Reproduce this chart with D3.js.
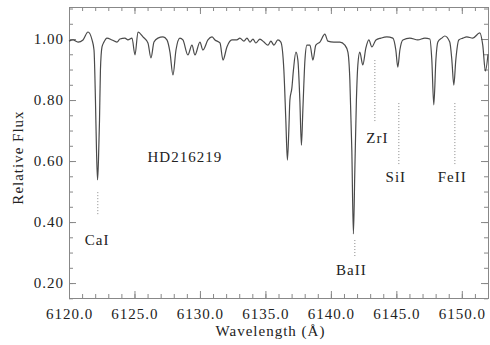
<!DOCTYPE html>
<html>
<head>
<meta charset="utf-8">
<script src="https://cdn.jsdelivr.net/npm/d3@7"></script>
<style>
  body { margin: 0; background: #fff; }
  text { font-family: "Liberation Serif", "DejaVu Serif", serif; fill: #222; }
</style>
</head>
<body>
<div id="chart"></div>
<script>
// Spectrum of HD216219
const wavelength = [
  6120.00, 6120.31, 6120.69, 6121.07, 6121.45, 6121.76, 6121.91, 6122.02, 6122.10, 6122.18,
  6122.25, 6122.33, 6122.40, 6122.52, 6122.67, 6122.90, 6123.28, 6123.66, 6123.89, 6124.27,
  6124.50, 6124.81, 6125.04, 6125.27, 6125.65, 6126.03, 6126.26, 6126.49, 6126.79, 6127.18,
  6127.48, 6127.71, 6127.94, 6128.17, 6128.47, 6128.70, 6129.08, 6129.39, 6129.62, 6130.00,
  6130.23, 6130.61, 6130.92, 6131.15, 6131.53, 6131.76, 6132.06, 6132.44, 6132.82, 6133.05,
  6133.36, 6133.59, 6133.82, 6134.05, 6134.27, 6134.58, 6134.89, 6135.19, 6135.42, 6135.65,
  6135.95, 6136.18, 6136.41, 6136.56, 6136.68, 6136.79, 6136.87, 6137.02, 6137.14, 6137.33,
  6137.48, 6137.63, 6137.75, 6137.86, 6138.02, 6138.17, 6138.40, 6138.63, 6138.85, 6139.16,
  6139.54, 6139.77, 6140.23, 6140.69, 6141.07, 6141.30, 6141.45, 6141.60, 6141.72, 6141.83,
  6141.95, 6142.06, 6142.21, 6142.44, 6142.67, 6142.90, 6143.13, 6143.44, 6143.82, 6144.27,
  6144.73, 6144.96, 6145.11, 6145.27, 6145.50, 6146.03, 6146.64, 6147.18, 6147.56, 6147.71,
  6147.86, 6148.02, 6148.17, 6148.47, 6148.70, 6149.08, 6149.24, 6149.39, 6149.54, 6149.77,
  6150.08, 6150.38, 6150.84, 6151.37, 6151.60, 6151.80, 6152.00
];
const flux = [
  0.993, 0.997, 0.990, 0.997, 1.023, 0.997, 0.964, 0.800, 0.636, 0.538,
  0.603, 0.734, 0.898, 0.974, 0.990, 1.003, 0.997, 0.990, 1.000, 1.003,
  0.997, 1.003, 0.948, 1.023, 1.007, 0.987, 0.938, 0.990, 1.003, 1.007,
  0.997, 0.957, 0.882, 0.964, 1.003, 0.997, 0.948, 0.980, 0.948, 0.990,
  0.964, 0.997, 1.007, 0.997, 0.987, 0.931, 0.974, 0.997, 0.997, 1.003,
  0.993, 1.003, 0.990, 1.000, 0.987, 1.000, 0.990, 0.980, 0.993, 0.980,
  0.997, 0.990, 0.898, 0.734, 0.603, 0.702, 0.800, 0.839, 0.898, 0.957,
  0.931, 0.800, 0.652, 0.767, 0.931, 0.980, 0.980, 0.931, 0.980, 0.990,
  1.016, 0.993, 0.990, 0.990, 0.980, 0.957, 0.866, 0.636, 0.361, 0.570,
  0.800, 0.915, 0.957, 0.915, 0.970, 0.997, 0.974, 0.997, 1.003, 1.007,
  1.003, 0.964, 0.908, 0.964, 0.997, 1.003, 0.997, 1.003, 1.000, 0.931,
  0.784, 0.931, 0.990, 1.003, 1.010, 0.990, 0.931, 0.849, 0.931, 0.997,
  1.003, 1.007, 1.003, 1.020, 0.980, 0.895, 0.950
];

// Line identifications
const lineNames = ["CaI", "BaII", "ZrI", "SiI", "FeII"];
const lineLambda = [6122.20, 6141.83, 6143.36, 6145.19, 6149.47];
const markTop = [0.498, 0.341, 0.931, 0.790, 0.790];
const markBottom = [0.423, 0.285, 0.728, 0.587, 0.587];
const labelLambda = [6122.15, 6141.56, 6143.55, 6144.96, 6149.27];
const labelFlux = [0.325, 0.226, 0.659, 0.531, 0.531];

const starName = "HD216219";
const starLambda = 6128.85, starFlux = 0.597;

const xTicks = [6120, 6125, 6130, 6135, 6140, 6145, 6150];
const yTicks = [0.20, 0.40, 0.60, 0.80, 1.00];

const margin = { top: 7, right: 2, bottom: 47, left: 69 },
    width = 490 - margin.left - margin.right,
    height = 345 - margin.top - margin.bottom;

const svg = d3.select("#chart")
    .append("svg")
    .attr("width", 490)
    .attr("height", 345)
    .append("g")
    .attr("transform", "translate(" + margin.left + "," + margin.top + ")");

const x = d3.scaleLinear().domain([6120, 6152]).range([0, width]);
const y = d3.scaleLinear().domain([0.151, 1.105]).range([height, 0]);

const minorX = d3.range(6120, 6153, 1);
const minorY = d3.range(0.15, 1.11, 0.05);

function styleAxis(g) {
    g.select(".domain").attr("stroke", "#888");
    g.selectAll(".tick line").attr("stroke", "#888");
    g.selectAll("text")
        .style("font-size", "15px")
        .style("letter-spacing", "1px")
        .attr("fill", "#222");
}

// minor ticks on all four sides
svg.append("g").attr("transform", "translate(0," + height + ")")
    .call(d3.axisBottom(x).tickValues(minorX).tickSize(-4).tickFormat(""))
    .call(styleAxis);
svg.append("g")
    .call(d3.axisTop(x).tickValues(minorX).tickSize(-4).tickFormat(""))
    .call(styleAxis);
svg.append("g")
    .call(d3.axisLeft(y).tickValues(minorY).tickSize(-4).tickFormat(""))
    .call(styleAxis);
svg.append("g").attr("transform", "translate(" + width + ",0)")
    .call(d3.axisRight(y).tickValues(minorY).tickSize(-4).tickFormat(""))
    .call(styleAxis);

// major ticks
svg.append("g").attr("transform", "translate(0," + height + ")")
    .call(d3.axisBottom(x).tickValues(xTicks).tickSize(-7).tickPadding(10).tickFormat(d3.format(".1f")))
    .call(styleAxis);
svg.append("g")
    .call(d3.axisTop(x).tickValues(xTicks).tickSize(-7).tickFormat(""))
    .call(styleAxis);
svg.append("g")
    .call(d3.axisLeft(y).tickValues(yTicks).tickSize(-7).tickPadding(5).tickFormat(d3.format(".2f")))
    .call(styleAxis);
svg.append("g").attr("transform", "translate(" + width + ",0)")
    .call(d3.axisRight(y).tickValues(yTicks).tickSize(-7).tickFormat(""))
    .call(styleAxis);

// spectrum
const line = d3.line()
    .curve(d3.curveMonotoneX)
    .x((d, i) => x(wavelength[i]))
    .y(d => y(d));

svg.append("path")
    .datum(flux)
    .attr("fill", "none")
    .attr("stroke", "#4a4a4a")
    .attr("stroke-width", 1.2)
    .attr("stroke-linejoin", "round")
    .attr("d", line);

// line markers and labels
svg.selectAll(".marker")
    .data(lineNames)
    .enter()
    .append("line")
    .attr("class", "marker")
    .attr("x1", (d, i) => x(lineLambda[i]))
    .attr("x2", (d, i) => x(lineLambda[i]))
    .attr("y1", (d, i) => y(markTop[i]))
    .attr("y2", (d, i) => y(markBottom[i]))
    .attr("stroke", "#888")
    .attr("stroke-dasharray", "1,2");

svg.selectAll(".label")
    .data(lineNames)
    .enter()
    .append("text")
    .attr("class", "label")
    .attr("x", (d, i) => x(labelLambda[i]))
    .attr("y", (d, i) => y(labelFlux[i]))
    .attr("text-anchor", "middle")
    .style("font-size", "15px")
    .style("letter-spacing", "1px")
    .text(d => d);

svg.append("text")
    .attr("x", x(starLambda))
    .attr("y", y(starFlux))
    .attr("text-anchor", "middle")
    .style("font-size", "15px")
    .style("letter-spacing", "1px")
    .text(starName);

// axis titles
svg.append("text")
    .attr("x", width / 2 - 8)
    .attr("y", height + 38)
    .attr("text-anchor", "middle")
    .style("font-size", "15px")
    .style("letter-spacing", "1px")
    .text("Wavelength (Å)");

svg.append("text")
    .attr("transform", "translate(-46," + (height / 2 + 5) + ") rotate(-90)")
    .attr("text-anchor", "middle")
    .style("font-size", "15px")
    .style("letter-spacing", "1px")
    .text("Relative Flux");
</script>
</body>
</html>
